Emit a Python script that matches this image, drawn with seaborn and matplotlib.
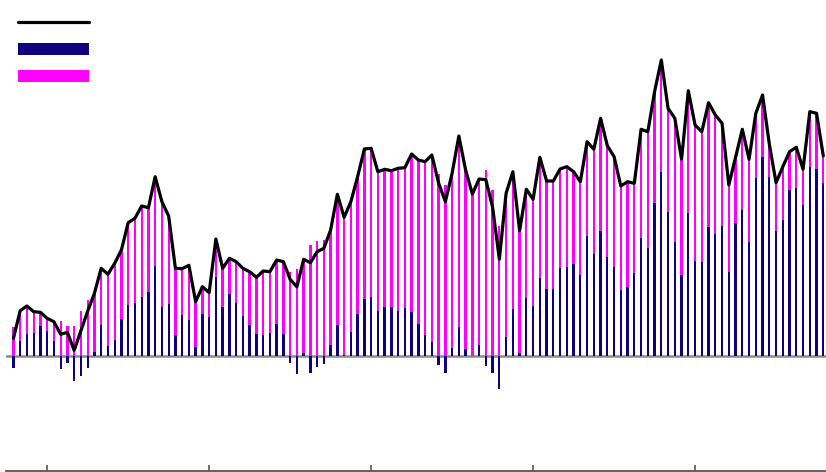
import numpy as np
import pandas as pd
import matplotlib
matplotlib.use("Agg")
import matplotlib.pyplot as plt
import seaborn as sns
from matplotlib.lines import Line2D
from matplotlib.patches import Patch

# ---- data ----
periods = list(range(121))
navy_vals = [
    -11.7, 15, 22.3, 23, 30.3, 25, 15, -13, -6.7, -24.7,
    -19.7, -11.7, 4, 31.3, 10, 16.3, 37, 51.3, 53, 59.3,
    64.3, 90, 49.3, 52, 21, 41, 36.3, 9, 42, 39,
    79, 49.3, 62, 53, 40.3, 31.3, 22.3, 21.3, 23, 32.3,
    22, -7.3, -18.3, 3.3, -17.3, -10.7, -8.3, 11, 31, 0.7,
    24.3, 42.3, 57, 59.3, 45, 49, 49, 45, 48, 44.3,
    32, 21, 14.3, -9, -16.7, 8, 29, 7, 0.5, 11,
    -9.7, -17.3, -33.3, 19, 47, 2.7, 58, 50, 78, 67,
    67, 88.3, 89, 92, 81, 120, 102, 125, 99, 89,
    66, 69, 83, 118, 108, 153, 184, 144, 114, 81,
    143.3, 95, 94, 129.3, 122.3, 130.3, 84.3, 133, 146, 114,
    178.3, 199, 179, 125.3, 136, 166.3, 168.3, 151, 189, 187,
    173,
]
magenta_vals = [
    29.3, 30.3, 27.7, 21.3, 13.4, 12.7, 19.3, 34.7, 30.4, 30.3,
    45, 56.5, 58.7, 56.4, 71.7, 76.4, 69, 82, 84.7, 90.7,
    84, 89.3, 105, 88, 66.7, 46.3, 54.4, 45.3, 27.3, 24.3,
    38, 38.4, 35.7, 41.3, 47.4, 53, 56.4, 63.7, 61.3, 63.7,
    72.3, 84, 87.5, 93.4, 110.6, 115, 116, 115, 130.7, 138,
    130, 137, 150, 148.4, 139.3, 137.7, 136.3, 142.7, 140.3, 157.7,
    164, 173.3, 186.7, 182, 171, 174.7, 191, 179, 161.5, 166,
    186, 166, 130, 143.7, 137.3, 122.6, 108.7, 106.7, 120.7, 108,
    108, 98.7, 100.3, 92.3, 93.3, 94.3, 104.7, 112.7, 111.3, 110.3,
    104, 105.3, 89.7, 108.7, 116.3, 111.3, 112, 103.7, 123.7, 115.7,
    122, 136, 130.3, 124, 118.7, 102.4, 86.7, 65.7, 80.7, 82.7,
    64.4, 62, 33, 48, 53.3, 38, 40.4, 35.7, 55.3, 55.7,
    27,
]
tick_positions = [5, 29, 53, 77, 101]

NAVY = "#100080"
MAGENTA = "#ff00ff"

df = pd.DataFrame({"period": periods, "navy": navy_vals, "magenta": magenta_vals})
df["base"] = df["navy"].clip(lower=0)
df["total"] = df["navy"] + df["magenta"]

sns.set_style("white")
fig = plt.figure(figsize=(8.26, 4.72), dpi=100)
ax = fig.add_axes([6 / 826, 1 / 472, 820 / 826, 471 / 472])

bw = 0.34
ax.axhline(0, color="#8c8c8c", lw=1.8, zorder=1)
sns.barplot(data=df, x="period", y="navy", native_scale=True, width=bw,
            color=NAVY, saturation=1, ax=ax, zorder=2, linewidth=0)
ax.bar(df["period"], df["magenta"], bottom=df["base"], width=bw,
       color=MAGENTA, linewidth=0, zorder=2)
sns.lineplot(data=df, x="period", y="total", color="black", lw=2.3,
             ax=ax, zorder=3)

ax.set_xlim(-1.1, 120.4)
ax.set_ylim(-115, 356)
ax.set_xticks(tick_positions)
ax.set_xticklabels([""] * len(tick_positions))
ax.set_yticks([])
ax.set_xlabel("")
ax.set_ylabel("")
for s in ["top", "left", "right"]:
    ax.spines[s].set_visible(False)
ax.spines["bottom"].set_color("#555555")
ax.spines["bottom"].set_linewidth(1.3)
ax.tick_params(axis="x", bottom=True, direction="in", length=4.5, width=1.2,
               color="#555555")

handles = [
    Line2D([0], [0], color="black", lw=2.3),
    Patch(facecolor=NAVY, edgecolor="none"),
    Patch(facecolor=MAGENTA, edgecolor="none"),
]
fig.legend(handles, [" ", " ", " "], loc="upper left",
           bbox_to_anchor=(18 / 826, 1 - 16 / 472), frameon=False,
           fontsize=10, handlelength=5.11, handleheight=1.0,
           labelspacing=0.93, borderpad=0, borderaxespad=0,
           handletextpad=0.3)

fig.savefig("out.png", dpi=100)
